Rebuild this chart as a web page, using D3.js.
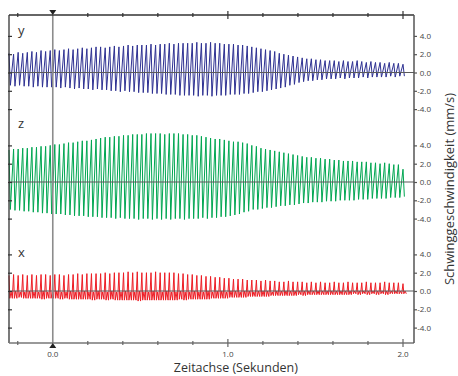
<!DOCTYPE html>
<html><head><meta charset="utf-8">
<script src="https://cdn.jsdelivr.net/npm/d3@7"></script>
<style>body{margin:0;background:#fff} text{font-family:"Open Sans",sans-serif}</style>
</head><body><svg id="c" width="458" height="376"></svg>
<script>
// ---------- data ----------
const seriesNames = ["y", "z", "x"];
const xTickValues = [-0.2, 0, 0.2, 0.4, 0.6, 0.8, 1.0, 1.2, 1.4, 1.6, 1.8, 2.0];
const xLabelValues = [0, 1, 2];
const yTickValues = [-4, -2, 0, 2, 4];
const tStart = -0.25, tEnd = 2.0;
const xTitle = "Zeitachse (Sekunden)";
const yTitle = "Schwinggeschwindigkeit (mm/s)";

// per-cycle peak / trough values (mm/s)
const yPeaks = [2.1,2.0,2.2,2.1,2.2,2.3,2.2,2.4,2.3,2.4, 2.5,2.4,2.5,2.6,2.5,2.6,2.7,2.6,2.7,2.8,
  2.8,2.7,2.8,2.9,2.8,2.9,3.0,2.9,3.0,3.0, 3.0,3.1,3.0,3.1,3.1,3.2,3.1,3.2,3.2,3.2,
  3.2,3.3,3.2,3.2,3.3,3.2,3.2,3.1,3.1,3.1, 3.0,3.0,2.9,2.8,2.7,2.6,2.5,2.4,2.3,2.1,
  2.0,1.9,1.8,1.7,1.6,1.5,1.5,1.4,1.4,1.3, 1.3,1.3,1.2,1.3,1.2,1.2,1.3,1.2,1.1,1.2,
  1.1,1.1,1.0,1.1,1.0,1.0,0.9];
const yTroughs = [-1.4,-1.5,-1.4,-1.5,-1.5,-1.6,-1.5,-1.6,-1.6,-1.6, -1.6,-1.7,-1.6,-1.7,-1.8,-1.7,-1.8,-1.8,-1.9,-1.8,
  -1.9,-1.9,-2.0,-2.0,-2.1,-2.0,-2.1,-2.1,-2.2,-2.2, -2.2,-2.3,-2.3,-2.3,-2.4,-2.4,-2.4,-2.5,-2.5,-2.5,
  -2.5,-2.6,-2.5,-2.5,-2.6,-2.5,-2.5,-2.5,-2.4,-2.4, -2.4,-2.3,-2.3,-2.2,-2.1,-2.1,-2.0,-1.9,-1.8,-1.7,
  -1.6,-1.4,-1.3,-1.1,-1.0,-0.9,-0.9,-0.8,-0.8,-0.7, -0.7,-0.7,-0.6,-0.7,-0.6,-0.6,-0.6,-0.5,-0.6,-0.5,
  -0.5,-0.5,-0.5,-0.4,-0.5,-0.4,-0.4];
const zPeaks = [3.5,3.6,3.6,3.7,3.7,3.8,3.8,3.9,3.9,4.0, 4.1,4.1,4.2,4.3,4.3,4.4,4.5,4.5,4.6,4.7,
  4.8,4.9,4.9,5.0,5.0,5.1,5.1,5.2,5.2,5.2, 5.3,5.3,5.3,5.3,5.2,5.3,5.3,5.3,5.2,5.2,
  5.1,5.1,5.0,4.9,4.8,4.7,4.7,4.6,4.5,4.4, 4.4,4.3,4.2,4.0,3.9,3.7,3.6,3.5,3.4,3.3,
  3.2,3.1,3.0,2.9,2.8,2.7,2.7,2.6,2.6,2.5, 2.5,2.4,2.4,2.3,2.3,2.3,2.2,2.2,2.2,2.1,
  2.1,2.0,2.1,2.0,1.9,1.9,1.4];
const zTroughs = [-3.0,-3.1,-3.1,-3.2,-3.2,-3.3,-3.3,-3.4,-3.4,-3.5, -3.5,-3.5,-3.6,-3.6,-3.7,-3.7,-3.7,-3.8,-3.8,-3.8,
  -3.9,-3.9,-3.9,-4.0,-3.9,-4.0,-4.0,-4.0,-4.1,-4.0, -4.0,-4.1,-4.0,-4.1,-4.0,-4.1,-4.0,-4.0,-4.1,-4.0,
  -4.0,-4.0,-3.9,-4.0,-3.9,-3.9,-3.8,-3.8,-3.7,-3.6, -3.5,-3.3,-3.2,-3.0,-3.0,-2.9,-2.8,-2.8,-2.7,-2.6,
  -2.6,-2.5,-2.5,-2.4,-2.3,-2.3,-2.2,-2.2,-2.2,-2.1, -2.1,-2.1,-2.0,-2.0,-2.0,-2.0,-1.9,-1.9,-1.9,-1.8,
  -1.8,-1.8,-1.8,-1.7,-1.7,-1.7,-1.6];
const xPeaks = [1.7,1.8,1.7,1.8,1.7,1.8,1.7,1.8,1.8,1.7, 1.8,1.8,1.7,1.8,1.8,1.9,1.8,1.9,1.9,1.9,
  1.9,2.0,1.9,2.0,2.0,2.0,2.1,2.0,2.1,2.0, 2.0,2.0,2.1,2.0,2.0,2.0,2.0,1.9,1.9,1.8,
  1.8,1.7,1.7,1.6,1.6,1.5,1.5,1.4,1.4,1.3, 1.3,1.3,1.2,1.2,1.2,1.1,1.2,1.1,1.1,1.0,
  1.0,1.1,1.0,1.0,1.0,0.9,1.0,0.9,1.0,0.9, 0.9,1.0,0.9,0.9,1.0,0.9,0.9,0.9,1.0,0.9,
  0.9,0.9,1.0,0.9,0.9,0.9,0.8];
const xTroughs = [-0.8,-0.8,-0.7,-0.8,-0.8,-0.8,-0.8,-0.9,-0.8,-0.8, -0.8,-0.9,-0.8,-0.9,-0.9,-0.9,-0.9,-0.9,-1.0,-0.9,
  -0.9,-1.0,-0.9,-1.0,-1.0,-1.0,-1.0,-1.0,-1.1,-1.0, -1.0,-1.0,-1.0,-1.0,-1.0,-1.0,-1.0,-0.9,-1.0,-0.9,
  -0.9,-0.9,-0.9,-0.9,-0.8,-0.8,-0.8,-0.8,-0.7,-0.7, -0.7,-0.7,-0.6,-0.6,-0.6,-0.6,-0.6,-0.5,-0.5,-0.5,
  -0.5,-0.5,-0.5,-0.4,-0.5,-0.4,-0.4,-0.4,-0.4,-0.4, -0.4,-0.4,-0.4,-0.4,-0.4,-0.3,-0.4,-0.3,-0.4,-0.3,
  -0.4,-0.3,-0.4,-0.3,-0.3,-0.3,-0.3];
const xBumps = [-0.1,0.0,-0.1,-0.1,0.0,-0.1,-0.1,0.0,-0.1,-0.1, 0.0,-0.1,-0.1,0.0,-0.1,-0.1,0.0,-0.1,-0.1,0.0,
  -0.1,-0.1,0.0,-0.1,-0.1,0.0,-0.1,-0.1,0.0,-0.1, -0.1,0.0,-0.1,-0.1,0.0,-0.1,-0.1,0.0,-0.1,-0.1,
  0.0,-0.1,-0.1,0.0,-0.1,0.0,0.0,-0.1,0.0,0.0, -0.1,0.0,0.0,-0.1,0.0,0.0,0.0,-0.1,0.0,0.0,
  0.0,0.0,0.0,0.0,0.0,0.0,0.0,0.0,0.0,0.0, 0.0,0.0,0.0,0.0,0.0,0.0,0.0,0.0,0.0,0.0,
  0.0,0.0,0.0,0.0,0.0,0.0,0.0];

// ---------- layout ----------
const W = 458, H = 376;
const box = {left: 9, right: 414, top: 15, bottom: 343};
const panelZero = [72.5, 182, 291];
const pxPerUnit = 9.15;
const colors = {y: "#2e3192", z: "#00a651", x: "#ed1c24"};

const svg = d3.select("#c");
const xScale = d3.scaleLinear().domain([tStart, tEnd]).range([box.left, 403]);
const yScales = panelZero.map(z => d3.scaleLinear().domain([-5, 5]).range([z + 5 * pxPerUnit, z - 5 * pxPerUnit]));

const nCycles = yPeaks.length;
const dt = (tEnd - tStart) / (nCycles - 1);

function zigzag(peaks, troughs) {
  const pts = [];
  peaks.forEach((p, i) => {
    const t = tStart + i * dt;
    pts.push([t, p]);
    pts.push([t + 0.3 * dt, troughs[i]]);
  });
  return pts;
}
function spiky(peaks, troughs, bumps) {
  const pts = [];
  peaks.forEach((p, i) => {
    const t = tStart + i * dt;
    pts.push([t, p]);
    pts.push([t + 0.18 * dt, troughs[i]]);
    pts.push([t + 0.45 * dt, bumps[i]]);
    pts.push([t + 0.72 * dt, troughs[i]]);
  });
  return pts;
}
const seriesData = {
  y: zigzag(yPeaks, yTroughs),
  z: zigzag(zPeaks, zTroughs),
  x: spiky(xPeaks, xTroughs, xBumps)
};

// signals
seriesNames.forEach((name, k) => {
  const ys = yScales[k];
  const line = d3.line().x(d => xScale(d[0])).y(d => ys(d[1]));
  svg.append("path").datum(seriesData[name])
    .attr("d", line).attr("fill", "none")
    .attr("stroke", colors[name]).attr("stroke-width", 1).attr("stroke-linejoin", "miter");
});

// zero lines
yScales.forEach(ys => {
  svg.append("line").attr("x1", box.left).attr("x2", box.right)
    .attr("y1", ys(0)).attr("y2", ys(0))
    .attr("stroke", "#5a5a5a").attr("stroke-width", 1.2);
});

// vertical line at t = 0
svg.append("line").attr("x1", xScale(0)).attr("x2", xScale(0))
  .attr("y1", box.top).attr("y2", box.bottom)
  .attr("stroke", "#8c8c8c").attr("stroke-width", 1.6);

// frame
svg.append("line").attr("x1", box.left).attr("x2", box.right).attr("y1", box.top).attr("y2", box.top).attr("stroke", "#333").attr("stroke-width", 1.3);
svg.append("line").attr("x1", box.left).attr("x2", box.left).attr("y1", box.top).attr("y2", box.bottom).attr("stroke", "#333").attr("stroke-width", 1.3);
svg.append("line").attr("x1", box.left).attr("x2", box.right).attr("y1", box.bottom).attr("y2", box.bottom).attr("stroke", "#777").attr("stroke-width", 1.3);
svg.append("line").attr("x1", box.right).attr("x2", box.right).attr("y1", box.top).attr("y2", box.bottom).attr("stroke", "#555").attr("stroke-width", 1.5);

// x ticks (top and bottom)
[box.top, box.bottom].forEach((yy, j) => {
  const col = j === 0 ? "#333" : "#666";
  svg.append("g").selectAll("line").data(xTickValues.filter(v => Math.abs(v) > 1e-9)).join("line")
    .attr("x1", d => xScale(d)).attr("x2", d => xScale(d))
    .attr("y1", d => yy - (xLabelValues.includes(Math.round(d * 10) / 10) ? 4 : 2))
    .attr("y2", d => yy + (xLabelValues.includes(Math.round(d * 10) / 10) ? 4 : 2))
    .attr("stroke", col).attr("stroke-width", 1.2);
});

// triangles at t = 0
const tx = xScale(0);
svg.append("path").attr("d", `M${tx - 3.5},${box.top - 5}L${tx + 3.5},${box.top - 5}L${tx},${box.top}Z`).attr("fill", "#222");
svg.append("path").attr("d", `M${tx - 3.5},${box.bottom + 5}L${tx + 3.5},${box.bottom + 5}L${tx},${box.bottom}Z`).attr("fill", "#222");

// x tick labels
svg.append("g").selectAll("text").data(xLabelValues).join("text")
  .attr("x", d => xScale(d)).attr("y", 357)
  .attr("text-anchor", "middle").attr("font-size", 8).attr("fill", "#444")
  .text(d => d.toFixed(1));

// x title
svg.append("text").attr("x", xScale(1) + 8).attr("y", 372).attr("text-anchor", "middle")
  .attr("font-size", 12.5).attr("fill", "#333").text(xTitle);

// y axes per panel
yScales.forEach(ys => {
  const gR = svg.append("g").attr("transform", `translate(${box.right},0)`)
    .call(d3.axisRight(ys).tickValues(yTickValues).tickSize(3).tickFormat(d => d.toFixed(1)));
  gR.select(".domain").remove();
  gR.selectAll(".tick line").attr("stroke", "#555").attr("stroke-width", 1.2);
  gR.selectAll(".tick text").attr("text-anchor", "end").attr("x", 17)
    .attr("font-size", 8).attr("fill", "#444").attr("font-family", "Open Sans, sans-serif");
  const gL = svg.append("g").attr("transform", `translate(${box.left - 1},0)`)
    .call(d3.axisRight(ys).tickValues(yTickValues).tickSize(4).tickFormat(""));
  gL.select(".domain").remove();
  gL.selectAll(".tick line").attr("stroke", "#333").attr("stroke-width", 1.2);
});

// panel labels
const labelY = [35, 128, 257];
seriesNames.forEach((name, k) => {
  svg.append("text").attr("x", 18).attr("y", labelY[k]).attr("font-size", 13).attr("fill", "#333").text(name);
});

// y title
svg.append("text").attr("transform", `translate(454,${189}) rotate(-90)`)
  .attr("text-anchor", "middle").attr("font-size", 13).attr("fill", "#333").text(yTitle);
</script></body></html>
